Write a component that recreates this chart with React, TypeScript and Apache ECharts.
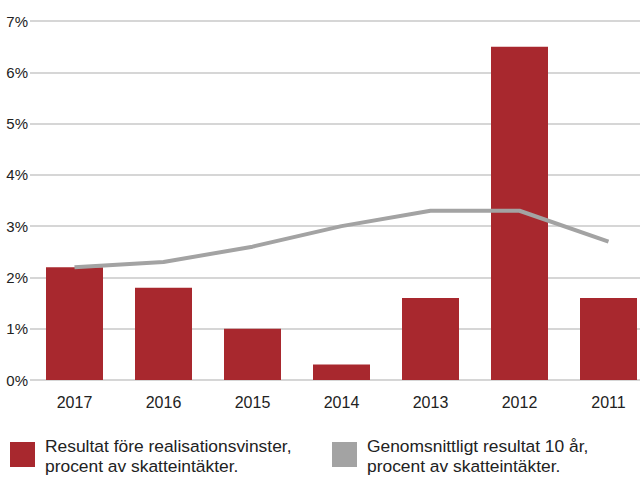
import React, { useEffect, useRef } from "react";
import * as echarts from "echarts";

const categories = ["2017", "2016", "2015", "2014", "2013", "2012", "2011"];
const resultValues = [2.2, 1.8, 1.0, 0.3, 1.6, 6.5, 1.6];
const averageValues = [2.2, 2.3, 2.6, 3.0, 3.3, 3.3, 2.7];
const legendLabels = [
  "Resultat före realisationsvinster,\nprocent av skatteintäkter.",
  "Genomsnittligt resultat 10 år,\nprocent av skatteintäkter.",
];

const RED = "#a8282e";
const GRAY = "#a3a3a3";
const FONT = "Liberation Sans, Arial, sans-serif";

export default function App() {
  const ref = useRef<HTMLDivElement>(null);
  useEffect(() => {
    document.body.style.margin = "0";
    if (!ref.current) return;
    const chart = echarts.init(ref.current, null, { renderer: "svg" });
    chart.setOption({
      animation: false,
      textStyle: { fontFamily: FONT },
      grid: {
        left: 30,
        width: 623,
        top: 21,
        height: 359,
        containLabel: false,
        outerBoundsMode: "none",
      },
      xAxis: {
        type: "category",
        data: categories,
        axisLine: { show: false },
        axisTick: { show: false },
        axisLabel: { color: "#222", fontSize: 16, margin: 14, fontFamily: FONT },
      },
      yAxis: {
        type: "value",
        min: 0,
        max: 7,
        interval: 1,
        axisLine: { show: false },
        axisTick: { show: false },
        axisLabel: {
          color: "#222",
          fontSize: 15,
          margin: 2,
          fontFamily: FONT,
          formatter: (v: number) => `${v}%`,
        },
        splitLine: { lineStyle: { color: "#c8c8c8", width: 1.5 } },
      },
      series: [
        {
          name: "Resultat",
          type: "bar",
          data: resultValues,
          barWidth: 57,
          itemStyle: { color: RED },
        },
        {
          name: "Genomsnitt",
          type: "line",
          data: averageValues,
          symbol: "none",
          lineStyle: { color: GRAY, width: 4 },
          z: 3,
        },
      ],
      graphic: [
        { type: "rect", left: 10, top: 442, shape: { width: 25, height: 25 }, style: { fill: RED } },
        {
          type: "text",
          left: 45,
          top: 436,
          style: { text: legendLabels[0], fontSize: 17.4, lineHeight: 20, fill: "#222", fontFamily: FONT },
        },
        { type: "rect", left: 332, top: 442, shape: { width: 25, height: 25 }, style: { fill: GRAY } },
        {
          type: "text",
          left: 367,
          top: 436,
          style: { text: legendLabels[1], fontSize: 17.4, lineHeight: 20, fill: "#222", fontFamily: FONT },
        },
      ],
    });
    return () => chart.dispose();
  }, []);
  return <div ref={ref} style={{ width: 640, height: 478 }} />;
}
